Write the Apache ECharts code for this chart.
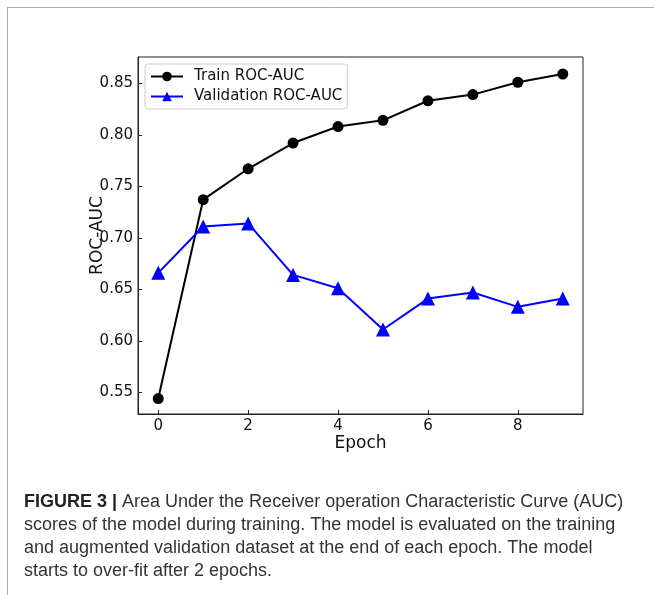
<!DOCTYPE html>
<html>
<head>
<meta charset="utf-8">
<script src="https://cdn.jsdelivr.net/npm/echarts@6/dist/echarts.min.js"></script>
<style>
  html, body { margin: 0; padding: 0; background: #fff; }
  #chart { width: 654px; height: 595px; }
</style>
</head>
<body>
<div id="chart"></div>
<script>
// epochs and scores
var epochs = [0, 1, 2, 3, 4, 5, 6, 7, 8, 9];
var trainAuc = [0.544, 0.737, 0.767, 0.792, 0.808, 0.814, 0.833, 0.839, 0.851, 0.859];
var valAuc = [0.666, 0.711, 0.714, 0.664, 0.651, 0.611, 0.641, 0.647, 0.633, 0.641];
var xTicks = [0, 2, 4, 6, 8];
var yTicks = [0.55, 0.60, 0.65, 0.70, 0.75, 0.80, 0.85];

var captionLines = [
  'Area Under the Receiver operation Characteristic Curve (AUC)',
  'scores of the model during training. The model is evaluated on the training',
  'and augmented validation dataset at the end of each epoch. The model',
  'starts to over-fit after 2 epochs.'
];

function pairs(xs, ys) {
  return xs.map(function (x, i) { return [x, ys[i]]; });
}

var chart = echarts.init(document.getElementById('chart'));
var tickFont = 'DejaVu Sans';
var capFont = '"Liberation Sans", Arial, sans-serif';

var option = {
  animation: false,
  grid: {
    left: 138, top: 57, right: 71, bottom: 181,
    show: true, borderColor: '#222', borderWidth: 1
  },
  legend: {
    orient: 'vertical',
    left: 145, top: 64,
    itemWidth: 32, itemHeight: 12, itemGap: 5,
    padding: [5, 5, 5, 5],
    borderColor: '#ccc', borderWidth: 1, borderRadius: 3,
    textStyle: { fontFamily: tickFont, fontSize: 15, color: '#111', padding: [0, 0, 0, 6] },
    data: ['Train ROC-AUC', 'Validation ROC-AUC']
  },
  xAxis: {
    type: 'value', min: -0.45, max: 9.45,
    name: 'Epoch', nameLocation: 'middle', nameGap: 21, nameMoveOverlap: false,
    nameTextStyle: { fontFamily: tickFont, fontSize: 17, color: '#111' },
    axisLine: { show: true, onZero: false, lineStyle: { color: '#222' } },
    axisTick: { show: true, inside: true, length: 4, customValues: xTicks, lineStyle: { color: '#222' } },
    axisLabel: { customValues: xTicks, fontFamily: tickFont, fontSize: 15, color: '#111', margin: 5 },
    splitLine: { show: false }
  },
  yAxis: {
    type: 'value', min: 0.529, max: 0.8755,
    name: 'ROC-AUC', nameLocation: 'middle', nameGap: 32, nameMoveOverlap: false,
    nameTextStyle: { fontFamily: tickFont, fontSize: 17, color: '#111' },
    axisLine: { show: true, onZero: false, lineStyle: { color: '#222' } },
    axisTick: { show: true, inside: true, length: 4, customValues: yTicks, lineStyle: { color: '#222' } },
    axisLabel: {
      customValues: yTicks, fontFamily: tickFont, fontSize: 15, color: '#111', margin: 5,
      formatter: function (v) { return v.toFixed(2); }
    },
    splitLine: { show: false }
  },
  series: [
    {
      name: 'Train ROC-AUC', type: 'line',
      data: pairs(epochs, trainAuc),
      symbol: 'circle', symbolSize: 11,
      lineStyle: { color: '#000', width: 2 },
      itemStyle: { color: '#000' }
    },
    {
      name: 'Validation ROC-AUC', type: 'line',
      data: pairs(epochs, valAuc),
      symbol: 'triangle', symbolSize: 14,
      lineStyle: { color: '#0000ff', width: 2 },
      itemStyle: { color: '#0000ff' }
    }
  ],
  graphic: [
    { type: 'line', shape: { x1: 7, y1: 7.5, x2: 654, y2: 7.5 }, style: { stroke: '#aaa', lineWidth: 1 } },
    { type: 'line', shape: { x1: 7.5, y1: 7, x2: 7.5, y2: 595 }, style: { stroke: '#aaa', lineWidth: 1 } },
    {
      type: 'text', left: 24, top: 493,
      style: {
        text: '{b|FIGURE 3 |} ' + captionLines[0],
        font: '18px ' + capFont, fill: '#333',
        rich: { b: { fontWeight: 'bold', fontFamily: capFont, fontSize: 18, fill: '#222' } }
      }
    },
    { type: 'text', left: 24, top: 516, style: { text: captionLines[1], font: '18px ' + capFont, fill: '#333' } },
    { type: 'text', left: 24, top: 539, style: { text: captionLines[2], font: '18px ' + capFont, fill: '#333' } },
    { type: 'text', left: 24, top: 562, style: { text: captionLines[3], font: '18px ' + capFont, fill: '#333' } }
  ]
};

chart.setOption(option);
</script>
</body>
</html>
